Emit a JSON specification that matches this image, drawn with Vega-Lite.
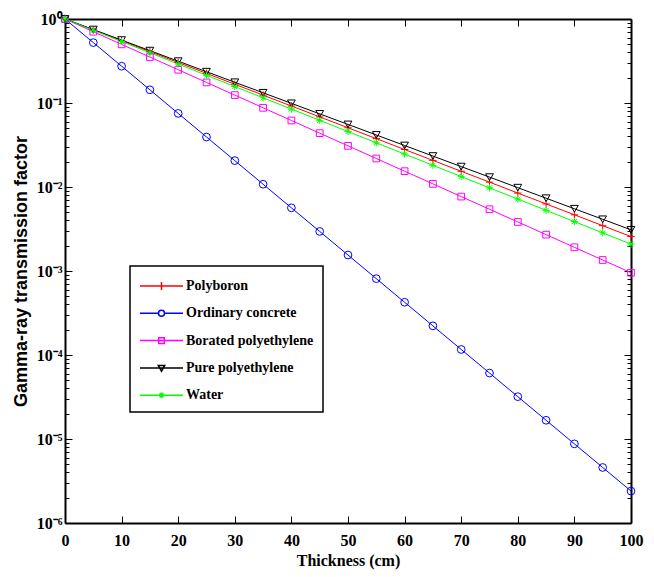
{
"$schema": "https://vega.github.io/schema/vega-lite/v6.json",
"width": 566, "height": 504,
"autosize": {"type": "none"},
"padding": {"left": 65, "top": 19, "right": 23, "bottom": 54},
"background": "white",
"config": {
  "view": {"stroke": null},
  "font": "Liberation Sans Narrow",
  "axis": {"domainColor": "black", "domainWidth": 2, "tickColor": "black", "tickWidth": 1, "labelColor": "black", "labelFont": "Liberation Sans Narrow", "labelFontWeight": "bold", "labelFontSize": 16, "titleColor": "black", "grid": false, "labelOverlap": false},
  "legend": {"orient": "none", "legendX": 65, "legendY": 247, "title": null, "strokeColor": "black", "strokeWidth": 1.5, "fillColor": "white", "padding": 9,
             "symbolSize": 400, "symbolStrokeWidth": 1.5, "symbolFillColor": "transparent",
             "labelFont": "Liberation Sans Narrow", "labelFontSize": 14, "labelFontWeight": "bold", "labelColor": "black", "labelOffset": 25, "rowPadding": 9.3}
},
"data": {"values": [
{"t":0,"m":"Polyboron","f":1},{"t":5,"m":"Polyboron","f":0.7421},{"t":10,"m":"Polyboron","f":0.5508},{"t":15,"m":"Polyboron","f":0.4088},{"t":20,"m":"Polyboron","f":0.3034},{"t":25,"m":"Polyboron","f":0.2252},{"t":30,"m":"Polyboron","f":0.1671},{"t":35,"m":"Polyboron","f":0.124},{"t":40,"m":"Polyboron","f":0.09204},{"t":45,"m":"Polyboron","f":0.06831},{"t":50,"m":"Polyboron","f":0.0507},{"t":55,"m":"Polyboron","f":0.03763},{"t":60,"m":"Polyboron","f":0.02793},{"t":65,"m":"Polyboron","f":0.02073},{"t":70,"m":"Polyboron","f":0.01538},{"t":75,"m":"Polyboron","f":0.01142},{"t":80,"m":"Polyboron","f":0.008472},{"t":85,"m":"Polyboron","f":0.006288},{"t":90,"m":"Polyboron","f":0.004667},{"t":95,"m":"Polyboron","f":0.003464},{"t":100,"m":"Polyboron","f":0.00257},
{"t":0,"m":"Ordinary concrete","f":1},{"t":5,"m":"Ordinary concrete","f":0.5236},{"t":10,"m":"Ordinary concrete","f":0.2742},{"t":15,"m":"Ordinary concrete","f":0.1436},{"t":20,"m":"Ordinary concrete","f":0.07516},{"t":25,"m":"Ordinary concrete","f":0.03936},{"t":30,"m":"Ordinary concrete","f":0.02061},{"t":35,"m":"Ordinary concrete","f":0.01079},{"t":40,"m":"Ordinary concrete","f":0.005649},{"t":45,"m":"Ordinary concrete","f":0.002958},{"t":50,"m":"Ordinary concrete","f":0.001549},{"t":55,"m":"Ordinary concrete","f":0.000811},{"t":60,"m":"Ordinary concrete","f":0.0004246},{"t":65,"m":"Ordinary concrete","f":0.0002223},{"t":70,"m":"Ordinary concrete","f":0.0001164},{"t":75,"m":"Ordinary concrete","f":0.00006095},{"t":80,"m":"Ordinary concrete","f":0.00003192},{"t":85,"m":"Ordinary concrete","f":0.00001671},{"t":90,"m":"Ordinary concrete","f":0.00000875},{"t":95,"m":"Ordinary concrete","f":0.000004581},{"t":100,"m":"Ordinary concrete","f":0.000002399},
{"t":0,"m":"Borated polyethylene","f":1},{"t":5,"m":"Borated polyethylene","f":0.7063},{"t":10,"m":"Borated polyethylene","f":0.4989},{"t":15,"m":"Borated polyethylene","f":0.3524},{"t":20,"m":"Borated polyethylene","f":0.2489},{"t":25,"m":"Borated polyethylene","f":0.1758},{"t":30,"m":"Borated polyethylene","f":0.1242},{"t":35,"m":"Borated polyethylene","f":0.0877},{"t":40,"m":"Borated polyethylene","f":0.06194},{"t":45,"m":"Borated polyethylene","f":0.04375},{"t":50,"m":"Borated polyethylene","f":0.0309},{"t":55,"m":"Borated polyethylene","f":0.02183},{"t":60,"m":"Borated polyethylene","f":0.01542},{"t":65,"m":"Borated polyethylene","f":0.01089},{"t":70,"m":"Borated polyethylene","f":0.007691},{"t":75,"m":"Borated polyethylene","f":0.005433},{"t":80,"m":"Borated polyethylene","f":0.003837},{"t":85,"m":"Borated polyethylene","f":0.00271},{"t":90,"m":"Borated polyethylene","f":0.001914},{"t":95,"m":"Borated polyethylene","f":0.001352},{"t":100,"m":"Borated polyethylene","f":0.000955},
{"t":0,"m":"Pure polyethylene","f":1},{"t":5,"m":"Pure polyethylene","f":0.749},{"t":10,"m":"Pure polyethylene","f":0.561},{"t":15,"m":"Pure polyethylene","f":0.4202},{"t":20,"m":"Pure polyethylene","f":0.3148},{"t":25,"m":"Pure polyethylene","f":0.2358},{"t":30,"m":"Pure polyethylene","f":0.1766},{"t":35,"m":"Pure polyethylene","f":0.1323},{"t":40,"m":"Pure polyethylene","f":0.09908},{"t":45,"m":"Pure polyethylene","f":0.07421},{"t":50,"m":"Pure polyethylene","f":0.05559},{"t":55,"m":"Pure polyethylene","f":0.04164},{"t":60,"m":"Pure polyethylene","f":0.03119},{"t":65,"m":"Pure polyethylene","f":0.02336},{"t":70,"m":"Pure polyethylene","f":0.0175},{"t":75,"m":"Pure polyethylene","f":0.01311},{"t":80,"m":"Pure polyethylene","f":0.009817},{"t":85,"m":"Pure polyethylene","f":0.007353},{"t":90,"m":"Pure polyethylene","f":0.005508},{"t":95,"m":"Pure polyethylene","f":0.004126},{"t":100,"m":"Pure polyethylene","f":0.00309},
{"t":0,"m":"Water","f":1},{"t":5,"m":"Water","f":0.7345},{"t":10,"m":"Water","f":0.5395},{"t":15,"m":"Water","f":0.3963},{"t":20,"m":"Water","f":0.2911},{"t":25,"m":"Water","f":0.2138},{"t":30,"m":"Water","f":0.157},{"t":35,"m":"Water","f":0.1153},{"t":40,"m":"Water","f":0.08472},{"t":45,"m":"Water","f":0.06223},{"t":50,"m":"Water","f":0.04571},{"t":55,"m":"Water","f":0.03357},{"t":60,"m":"Water","f":0.02466},{"t":65,"m":"Water","f":0.01811},{"t":70,"m":"Water","f":0.0133},{"t":75,"m":"Water","f":0.009772},{"t":80,"m":"Water","f":0.007178},{"t":85,"m":"Water","f":0.005272},{"t":90,"m":"Water","f":0.003873},{"t":95,"m":"Water","f":0.002844},{"t":100,"m":"Water","f":0.002089}
]},
"layer": [
 {
  "mark": {"type": "line", "strokeWidth": 1},
  "encoding": {
   "x": {"field": "t", "type": "quantitative", "scale": {"domain": [0, 100], "nice": false},
         "axis": {"orient": "bottom", "values": [0,10,20,30,40,50,60,70,80,90,100], "tickSize": -7, "labelPadding": 16, "labelFlush": false,
                  "title": "Thickness (cm)", "titleFont": "Liberation Sans Narrow", "titleFontSize": 16, "titleFontWeight": "bold", "titlePadding": 4}},
   "y": {"field": "f", "type": "quantitative", "scale": {"type": "log", "domain": [0.000001, 1], "nice": false},
         "axis": {"orient": "left",
                  "tickSize": {"condition": {"test": "abs(log(datum.value)/LN10 - round(log(datum.value)/LN10)) < 0.000001", "value": -7}, "value": -4},
                  "labelPadding": 10,
                  "labelExpr": "datum.value==1?'10⁰':datum.value==0.1?'10⁻¹':datum.value==0.01?'10⁻²':datum.value==0.001?'10⁻³':datum.value==0.0001?'10⁻⁴':datum.value==0.00001?'10⁻⁵':datum.value==0.000001?'10⁻⁶':''",
                  "title": "Gamma-ray transmission factor", "titleFont": "Liberation Sans", "titleFontSize": 18, "titleFontWeight": "bold", "titlePadding": 6}},
   "color": {"field": "m", "type": "nominal",
             "scale": {"domain": ["Polyboron", "Ordinary concrete", "Borated polyethylene", "Pure polyethylene", "Water"], "range": ["#ff0000", "#0000ff", "#ff00ff", "#000000", "#00ff00"]}}
  }
 },
 {
  "transform": [{"filter": "datum.t < 0"}],
  "mark": {"type": "point", "filled": false, "strokeWidth": 1.5, "opacity": 1},
  "encoding": {
   "x": {"field": "t", "type": "quantitative", "axis": null},
   "y": {"field": "f", "type": "quantitative", "axis": null},
   "color": {"field": "m", "type": "nominal"},
   "shape": {"field": "m", "type": "nominal",
             "scale": {"domain": ["Polyboron", "Ordinary concrete", "Borated polyethylene", "Pure polyethylene", "Water"],
                       "range": ["M-1,0H3.3M1.15,-0.4V0.4", "M-1,0H0.85M1.45,0H3.3M0.85,0A0.3,0.3,0,1,0,1.45,0A0.3,0.3,0,1,0,0.85,0", "M-1,0H3.3M0.87,-0.28H1.43V0.28H0.87Z", "M-1,0H3.3M0.83,-0.25H1.47L1.15,0.32Z", "M-1,0H3.3M0.95,-0.2L1.35,0.2M0.95,0.2L1.35,-0.2M1.15,-0.28V0.28"]}}
  }
 },
 {
  "transform": [{"filter": "datum.m === 'Polyboron'"}],
  "mark": {"type": "point", "filled": false, "strokeWidth": 1, "opacity": 1, "size": 55, "color": "#ff0000", "shape": "M-1,0H1M0,-1V1"},
  "encoding": {
   "x": {"field": "t", "type": "quantitative",
         "axis": {"orient": "top", "values": [0,10,20,30,40,50,60,70,80,90,100], "tickSize": -7, "labels": false, "title": null}},
   "y": {"field": "f", "type": "quantitative",
         "axis": {"orient": "right", "labels": false, "title": null,
                  "tickSize": {"condition": {"test": "abs(log(datum.value)/LN10 - round(log(datum.value)/LN10)) < 0.000001", "value": -7}, "value": -4}}}
  }
 },
 {
  "transform": [{"filter": "datum.m === 'Ordinary concrete'"}],
  "mark": {"type": "point", "filled": false, "strokeWidth": 1, "opacity": 1, "size": 60, "color": "#0000ff", "shape": "circle"},
  "encoding": {"x": {"field": "t", "type": "quantitative", "axis": null}, "y": {"field": "f", "type": "quantitative", "axis": null}}
 },
 {
  "transform": [{"filter": "datum.m === 'Borated polyethylene'"}],
  "mark": {"type": "point", "filled": false, "strokeWidth": 1, "opacity": 1, "size": 45, "color": "#ff00ff", "shape": "square"},
  "encoding": {"x": {"field": "t", "type": "quantitative", "axis": null}, "y": {"field": "f", "type": "quantitative", "axis": null}}
 },
 {
  "transform": [{"filter": "datum.m === 'Pure polyethylene'"}],
  "mark": {"type": "point", "filled": false, "strokeWidth": 1, "opacity": 1, "size": 60, "color": "#000000", "shape": "triangle-down"},
  "encoding": {"x": {"field": "t", "type": "quantitative", "axis": null}, "y": {"field": "f", "type": "quantitative", "axis": null}}
 },
 {
  "transform": [{"filter": "datum.m === 'Water'"}],
  "mark": {"type": "point", "filled": false, "strokeWidth": 1, "opacity": 1, "size": 50, "color": "#00ff00", "shape": "M-1,0H1M0,-1V1M-0.7,-0.7L0.7,0.7M-0.7,0.7L0.7,-0.7"},
  "encoding": {"x": {"field": "t", "type": "quantitative", "axis": null}, "y": {"field": "f", "type": "quantitative", "axis": null}}
 }
],
"resolve": {"axis": {"x": "independent", "y": "independent"}}
}
